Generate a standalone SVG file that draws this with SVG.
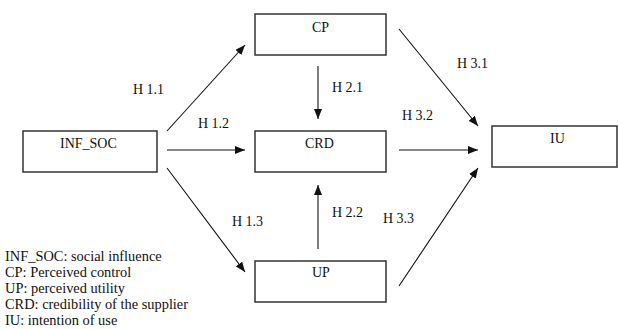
<svg xmlns="http://www.w3.org/2000/svg" width="619" height="329" viewBox="0 0 619 329">
<style>
.box{fill:#fff;stroke:#333;stroke-width:1.5}
.t{font-family:"Liberation Serif","Times New Roman",serif;font-size:14px;fill:#111}
.c{stroke:#111;stroke-width:1.1;fill:none;marker-end:url(#ah)}
</style>
<defs>
<marker id="ah" viewBox="0 0 10 8" refX="10" refY="4" markerWidth="10" markerHeight="8" markerUnits="userSpaceOnUse" orient="auto">
<path d="M0,0 L10,4 L0,8 z" fill="#111"/>
</marker>
</defs>
<rect width="619" height="329" fill="#fff"/>
<g id="connectors">
<line class="c" x1="167" y1="131" x2="245" y2="45"/>
<line class="c" x1="167" y1="150" x2="245" y2="150"/>
<line class="c" x1="167" y1="168" x2="245" y2="272"/>
<line class="c" x1="318" y1="66" x2="318" y2="119"/>
<line class="c" x1="318" y1="249" x2="318" y2="185"/>
<line class="c" x1="399" y1="29" x2="478" y2="126"/>
<line class="c" x1="399" y1="150" x2="478" y2="150"/>
<line class="c" x1="399" y1="286" x2="478" y2="168"/>
<text class="t" x="133" y="94">H 1.1</text>
<text class="t" x="198" y="128">H 1.2</text>
<text class="t" x="232" y="226">H 1.3</text>
<text class="t" x="332" y="92">H 2.1</text>
<text class="t" x="332" y="217">H 2.2</text>
<text class="t" x="457" y="68">H 3.1</text>
<text class="t" x="402" y="120">H 3.2</text>
<text class="t" x="383" y="223">H 3.3</text>
</g>
<g id="INF_SOC">
<rect class="box" x="23" y="131" width="134" height="41"/>
<text class="t" x="60" y="148">INF_SOC</text>
</g>
<g id="CP">
<rect class="box" x="255" y="14" width="131" height="41"/>
<text class="t" x="312" y="32">CP</text>
</g>
<g id="CRD">
<rect class="box" x="255" y="131" width="131" height="41"/>
<text class="t" x="305" y="148">CRD</text>
</g>
<g id="UP">
<rect class="box" x="255" y="261" width="131" height="41"/>
<text class="t" x="312" y="277">UP</text>
</g>
<g id="IU">
<rect class="box" x="492" y="126" width="125" height="41"/>
<text class="t" x="550" y="143">IU</text>
</g>
<g id="legend" class="t" style="font-size:14.4px">
<text x="5" y="261">INF_SOC: social influence</text>
<text x="5" y="277">CP: Perceived control</text>
<text x="5" y="293">UP: perceived utility</text>
<text x="5" y="309">CRD: credibility of the supplier</text>
<text x="5" y="325">IU: intention of use</text>
</g>
</svg>
